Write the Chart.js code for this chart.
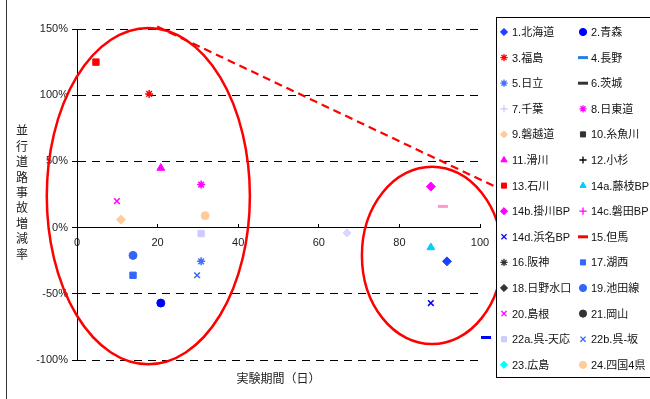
<!DOCTYPE html>
<html lang="ja">
<head>
<meta charset="utf-8">
<script src="https://cdn.jsdelivr.net/npm/chart.js@4/dist/chart.umd.min.js"></script>
<style>
  html, body { margin: 0; padding: 0; background: #fff; }
  #wrap { width: 650px; height: 399px; }
</style>
</head>
<body>
<div id="wrap"><canvas id="accidentChart" width="650" height="399"></canvas></div>
<script>
// 系列名（凡例の並び順）
const seriesNames = [
  '1.北海道', '2.青森', '3.福島', '4.長野', '5.日立', '6.茨城', '7.千葉', '8.日東道',
  '9.磐越道', '10.糸魚川', '11.滑川', '12.小杉', '13.石川', '14a.藤枝BP', '14b.掛川BP',
  '14c.磐田BP', '14d.浜名BP', '15.但馬', '16.阪神', '17.湖西', '18.日野水口', '19.池田線',
  '20.島根', '21.岡山', '22a.呉-天応', '22b.呉-坂', '23.広島', '24.四国4県'
];

// 実験期間（日）
const periodDays = [
  [91.8], [20.8], [17.9], [101.5], [30.8], [], [102], [30.8],
  [10.9], [], [20.8], [], [4.7], [87.8], [87.8],
  [], [87.8], [90.8], [], [13.9], [], [13.9],
  [9.9], [], [30.8], [29.8], [], [31.8]
];

// 並行道路事故増減率（%）
const changeRate = [
  [-25.5], [-57], [101], [-83], [-25.5], [], [0], [32.5],
  [6], [], [45], [], [125], [-15], [31],
  [], [-57], [16], [], [-36], [], [-21],
  [20], [], [-4.5], [-36], [], [9]
];

// 凡例なしの点
const otherDays = [67];
const otherRate = [-4];

const xTicksStep = 20;
const yTicksStep = 50;

// --- styles ---
const markerShapes = [
  'rectRot', 'circle', 'star', 'line', 'star', 'line', 'cross', 'star',
  'rectRot', 'rect', 'triangle', 'cross', 'rect', 'triangle', 'rectRot',
  'cross', 'crossRot', 'line', 'star', 'rect', 'rectRot', 'circle',
  'crossRot', 'circle', 'rect', 'crossRot', 'rectRot', 'circle'
];
const markerColors = [
  '#1f3fff', '#0000ff', '#ff0000', '#2b7fe0', '#3f6fff', '#333333', '#ccccff', '#ff00ff',
  '#ffcc99', '#333333', '#ff00ff', '#000000', '#ff0000', '#00ccff', '#ff00ff',
  '#ff00ff', '#0000ff', '#ff0000', '#333333', '#3366ff', '#333333', '#3366ff',
  '#ff00ff', '#333333', '#ccccff', '#3366ff', '#00ffff', '#ffcc99'
];
// プロット上で色が違って見える点
const plotColorOverride = { 3: '#0000ff', 17: '#ff99cc' };

const lineShapes = ['star', 'cross', 'crossRot', 'line'];
const shapeRadius = { rectRot: 4.5, circle: 4, star: 4, line: 5, cross: 4, rect: 4.5, triangle: 4.5, crossRot: 4 };

const FONT = "'Liberation Sans', 'Noto Sans CJK JP', sans-serif";
Chart.defaults.font.family = FONT;
Chart.defaults.font.size = 11;
Chart.defaults.color = '#222';

const datasets = seriesNames.map((name, i) => {
  const shape = markerShapes[i];
  const col = plotColorOverride[i] || markerColors[i];
  return {
    label: name,
    data: periodDays[i].map((d, k) => ({ x: d, y: changeRate[i][k] })),
    pointStyle: shape,
    pointRadius: shapeRadius[shape],
    borderColor: markerColors[i],
    backgroundColor: markerColors[i],
    pointBorderColor: col,
    pointBackgroundColor: col,
    pointBorderWidth: shape === 'line' ? 3 : (lineShapes.includes(shape) ? 1.5 : 1),
    showLine: false,
    clip: false
  };
});
datasets.push({
  label: '',
  data: otherDays.map((d, k) => ({ x: d, y: otherRate[k] })),
  pointStyle: 'rectRot',
  pointRadius: 4,
  pointBorderColor: '#d6d6ff',
  pointBackgroundColor: '#d6d6ff',
  showLine: false,
  clip: false
});

// 囲み（データ単位）
const groupEllipses = [
  { cx: 17.7, cy: 23.8, rx: 25.2, ry: 127 },
  { cx: 88.1, cy: -21, rx: 17.4, ry: 67 }
];
const linkLine = { x1: 19.9, y1: 151.8, x2: 110, y2: 22 };

const annotationPlugin = {
  id: 'groupMarks',
  afterDatasetsDraw(chart) {
    const { ctx, scales: { x, y } } = chart;
    ctx.save();
    ctx.strokeStyle = '#ff0000';
    ctx.lineWidth = 2.5;
    groupEllipses.forEach(e => {
      const px = x.getPixelForValue(e.cx);
      const py = y.getPixelForValue(e.cy);
      const rx = Math.abs(x.getPixelForValue(e.cx + e.rx) - px);
      const ry = Math.abs(y.getPixelForValue(e.cy + e.ry) - py);
      ctx.beginPath();
      ctx.ellipse(px, py, rx, ry, 0, 0, Math.PI * 2);
      ctx.stroke();
    });
    ctx.lineWidth = 2.2;
    ctx.setLineDash([8, 5]);
    ctx.beginPath();
    ctx.moveTo(x.getPixelForValue(linkLine.x1), y.getPixelForValue(linkLine.y1));
    ctx.lineTo(x.getPixelForValue(linkLine.x2), y.getPixelForValue(linkLine.y2));
    ctx.stroke();
    ctx.restore();
  }
};

// 縦書きの軸タイトル、外枠、2列の凡例
const frameAndLegend = {
  id: 'frameAndLegend',
  afterDraw(chart) {
    const { ctx } = chart;
    ctx.save();
    // left frame
    ctx.strokeStyle = '#333';
    ctx.lineWidth = 1;
    ctx.beginPath();
    ctx.moveTo(6.5, 0);
    ctx.lineTo(6.5, 399);
    ctx.stroke();

    // y title, one char per line
    const yTitle = '並行道路事故増減率';
    ctx.fillStyle = '#222';
    ctx.font = '12px ' + FONT;
    ctx.textAlign = 'center';
    ctx.textBaseline = 'middle';
    [...yTitle].forEach((ch, i) => ctx.fillText(ch, 22, 132 + i * 15.4));

    // legend box
    ctx.fillStyle = '#fff';
    ctx.fillRect(496.5, 17.5, 170, 360);
    ctx.strokeStyle = '#000';
    ctx.strokeRect(496.5, 17.5, 170, 360);

    ctx.textAlign = 'left';
    let n = 0;
    chart.data.datasets.forEach(ds => {
      if (!ds.label) return;
      const col = n % 2, row = Math.floor(n / 2);
      const mx = 504 + col * 79;
      const ty = 32 + row * 25.6;
      ctx.strokeStyle = ds.borderColor;
      ctx.fillStyle = ds.backgroundColor;
      ctx.lineWidth = ds.pointStyle === 'line' ? 3 : (lineShapes.includes(ds.pointStyle) ? 1.3 : 1);
      Chart.helpers.drawPoint(ctx, {
        pointStyle: ds.pointStyle,
        radius: ds.pointStyle === 'line' ? 5 : 3.6,
        rotation: 0,
        borderWidth: ctx.lineWidth
      }, mx, ty);
      ctx.fillStyle = '#111';
      ctx.font = '11px ' + FONT;
      ctx.fillText(ds.label, mx + 8, ty + 1);
      n++;
    });
    ctx.restore();
  }
};

const chart = new Chart(document.getElementById('accidentChart'), {
  type: 'scatter',
  data: { datasets },
  options: {
    responsive: false,
    animation: false,
    layout: { padding: { top: 29, right: 170, bottom: 0, left: 0 } },
    plugins: {
      legend: { display: false },
      tooltip: { enabled: false }
    },
    scales: {
      x: {
        type: 'linear',
        position: { y: 0 },
        min: 0,
        max: 100,
        ticks: { stepSize: xTicksStep, padding: 13, color: '#222' },
        // ticks point up into the plot, like the original
        grid: { drawOnChartArea: false, drawTicks: true, tickLength: -4, color: '#000' },
        border: { color: '#000', width: 1 }
      },
      x2: {
        type: 'linear',
        axis: 'x',
        position: 'bottom',
        min: 0,
        max: 100,
        afterFit: s => { s.height = 39; },
        ticks: { display: false },
        grid: { display: false },
        border: { display: false },
        title: {
          display: true,
          text: '実験期間（日）',
          font: { size: 12 },
          color: '#222',
          padding: { top: 0, bottom: 12 }
        }
      },
      y: {
        type: 'linear',
        min: -100,
        max: 150,
        afterFit: s => { s.width = 77; },
        ticks: { stepSize: yTicksStep, padding: 4, color: '#222', callback: v => v + '%' },
        grid: { color: '#000', lineWidth: 1, tickLength: 5, tickColor: '#000' },
        border: { color: '#000', width: 1, dash: [8, 6] }
      }
    }
  },
  plugins: [annotationPlugin, frameAndLegend]
});
</script>
</body>
</html>
